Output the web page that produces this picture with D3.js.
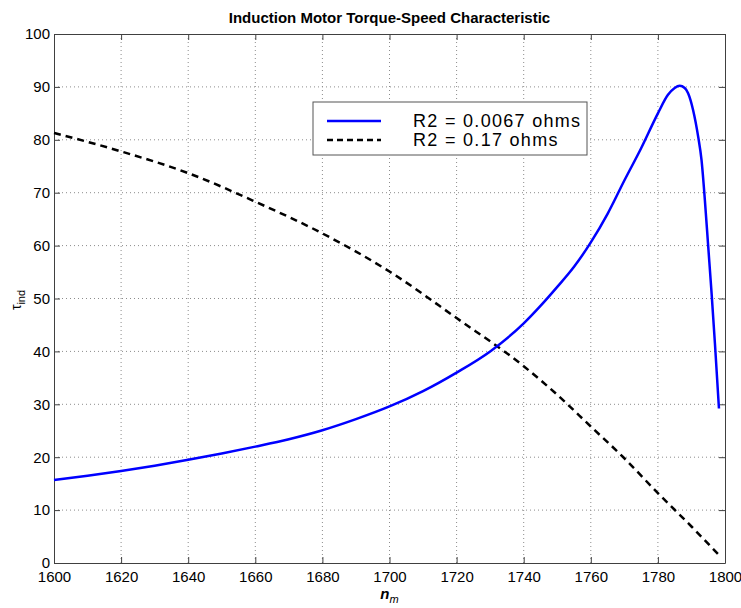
<!DOCTYPE html>
<html lang="en">
<head>
    <meta charset="UTF-8">
    <title>Induction Motor Torque-Speed Characteristic</title>
    <script src="https://d3js.org/d3.v7.min.js"></script>
    <style>
        body { margin: 0; background: #fff; }
        svg { font-family: "Liberation Sans", Arial, sans-serif; }
        .grid line { stroke: #8c8c8c; stroke-width: 1; stroke-dasharray: 1, 3; }
    </style>
</head>
<body>
    <script>
        // Chart data
        const xTicks = [1600, 1620, 1640, 1660, 1680, 1700, 1720, 1740, 1760, 1780, 1800];
        const yTicks = [0, 10, 20, 30, 40, 50, 60, 70, 80, 90, 100];

        // R2 = 0.0067 ohms (solid blue)
        const speedA = [1600, 1610, 1620, 1630, 1640, 1650, 1660, 1670, 1680, 1690, 1700, 1710, 1720, 1730, 1740,
                        1745, 1750, 1755, 1760, 1765, 1770, 1775, 1780, 1783, 1785, 1786.5, 1788, 1789, 1790.5,
                        1792, 1793, 1794, 1795, 1796, 1797, 1798.2];
        const torqueA = [15.7, 16.5, 17.4, 18.4, 19.5, 20.7, 22.0, 23.4, 25.1, 27.2, 29.6, 32.5, 36.0, 40.0, 45.3,
                         48.6, 52.2, 56.0, 60.6, 66.0, 72.3, 78.4, 85.0, 88.5, 89.8, 90.2, 89.8, 88.8, 85.6,
                         80.6, 76.2, 68.6, 59.8, 51.0, 41.5, 29.2];

        // R2 = 0.17 ohms (dashed black)
        const speedB = [1600, 1620, 1640, 1660, 1680, 1700, 1720, 1740, 1750, 1760, 1770, 1780, 1790, 1798.2];
        const torqueB = [81.3, 77.8, 73.7, 68.3, 62.3, 55.1, 46.3, 37.2, 31.8, 25.8, 19.8, 13.2, 6.9, 1.5];

        const seriesNames = ["R2 = 0.0067 ohms", "R2 = 0.17 ohms"];

        const width = 741, height = 608;
        const margin = {left: 54, right: 16, top: 34, bottom: 45};

        const svg = d3.select("body").append("svg")
            .attr("width", width)
            .attr("height", height);

        const x = d3.scaleLinear().domain([1600, 1800]).range([margin.left, width - margin.right]);
        const y = d3.scaleLinear().domain([0, 100]).range([height - margin.bottom, margin.top]);

        // Gridlines
        const grid = svg.append("g").attr("class", "grid");
        grid.selectAll(".gx").data(xTicks.slice(1, -1)).enter().append("line")
            .attr("x1", d => x(d)).attr("x2", d => x(d))
            .attr("y1", y(0)).attr("y2", y(100));
        grid.selectAll(".gy").data(yTicks.slice(1, -1)).enter().append("line")
            .attr("x1", x(1600)).attr("x2", x(1800))
            .attr("y1", d => y(d)).attr("y2", d => y(d));

        // Axes (ticks pointing inward, on all four sides)
        const tickLen = 6;
        const axisColor = "#404040";
        function styleAxis(g) {
            g.select(".domain").attr("stroke", axisColor);
            g.selectAll(".tick line").attr("stroke", axisColor);
            g.selectAll(".tick text").attr("fill", "#000").style("font-size", "15px")
                .style("font-family", "'Liberation Sans', Arial, sans-serif");
        }
        svg.append("g").attr("transform", `translate(0,${y(0)})`)
            .call(d3.axisBottom(x).tickValues(xTicks).tickSizeInner(-tickLen).tickSizeOuter(0).tickPadding(8).tickFormat(d3.format("d")))
            .call(styleAxis);
        svg.append("g").attr("transform", `translate(0,${y(100)})`)
            .call(d3.axisTop(x).tickValues(xTicks).tickSizeInner(-tickLen).tickSizeOuter(0).tickFormat(""))
            .call(styleAxis);
        svg.append("g").attr("transform", `translate(${x(1600)},0)`)
            .call(d3.axisLeft(y).tickValues(yTicks).tickSizeInner(-tickLen).tickSizeOuter(0).tickPadding(4))
            .call(styleAxis);
        svg.append("g").attr("transform", `translate(${x(1800)},0)`)
            .call(d3.axisRight(y).tickValues(yTicks).tickSizeInner(-tickLen).tickSizeOuter(0).tickFormat(""))
            .call(styleAxis);

        // Curves
        const line = d3.line().x(d => x(d[0])).y(d => y(d[1])).curve(d3.curveMonotoneX);
        svg.append("path")
            .datum(d3.zip(speedB, torqueB))
            .attr("d", line)
            .attr("fill", "none")
            .attr("stroke", "#000")
            .attr("stroke-width", 2.5)
            .attr("stroke-dasharray", "7,5");
        svg.append("path")
            .datum(d3.zip(speedA, torqueA))
            .attr("d", line)
            .attr("fill", "none")
            .attr("stroke", "#0000ff")
            .attr("stroke-width", 2.5);

        // Legend
        const legend = svg.append("g").attr("transform", "translate(313,102)");
        legend.append("rect")
            .attr("width", 274).attr("height", 53)
            .attr("fill", "#fff").attr("stroke", "#555").attr("stroke-width", 1);
        const legendStyles = [{color: "#0000ff", dash: null}, {color: "#000", dash: "6,4"}];
        seriesNames.forEach((name, i) => {
            const ly = 19 + i * 19;
            legend.append("line")
                .attr("x1", 14).attr("x2", 68).attr("y1", ly).attr("y2", ly)
                .attr("stroke", legendStyles[i].color)
                .attr("stroke-width", 2.5)
                .attr("stroke-dasharray", legendStyles[i].dash);
            legend.append("text")
                .attr("x", 100).attr("y", ly + 6)
                .style("font-size", "18px")
                .style("letter-spacing", "1.3px")
                .text(name);
        });

        // Title
        svg.append("text")
            .attr("x", (x(1600) + x(1800)) / 2).attr("y", 23)
            .attr("text-anchor", "middle")
            .style("font-size", "15px").style("font-weight", "bold")
            .text("Induction Motor Torque-Speed Characteristic");

        // X label: n_m
        const xl = svg.append("text")
            .attr("x", (x(1600) + x(1800)) / 2).attr("y", 599)
            .attr("text-anchor", "middle")
            .style("font-size", "15px").style("font-style", "italic").style("font-weight", "bold");
        xl.append("tspan").text("n");
        xl.append("tspan").attr("dy", 4).style("font-size", "11px").style("font-weight", "normal").text("m");

        // Y label: tau_ind
        const yl = svg.append("text")
            .attr("transform", "translate(21,300) rotate(-90)")
            .attr("text-anchor", "middle")
            .style("font-size", "14px");
        yl.append("tspan").text("τ");
        yl.append("tspan").attr("dy", 4).style("font-size", "11px").text("ind");
    </script>
</body>
</html>
